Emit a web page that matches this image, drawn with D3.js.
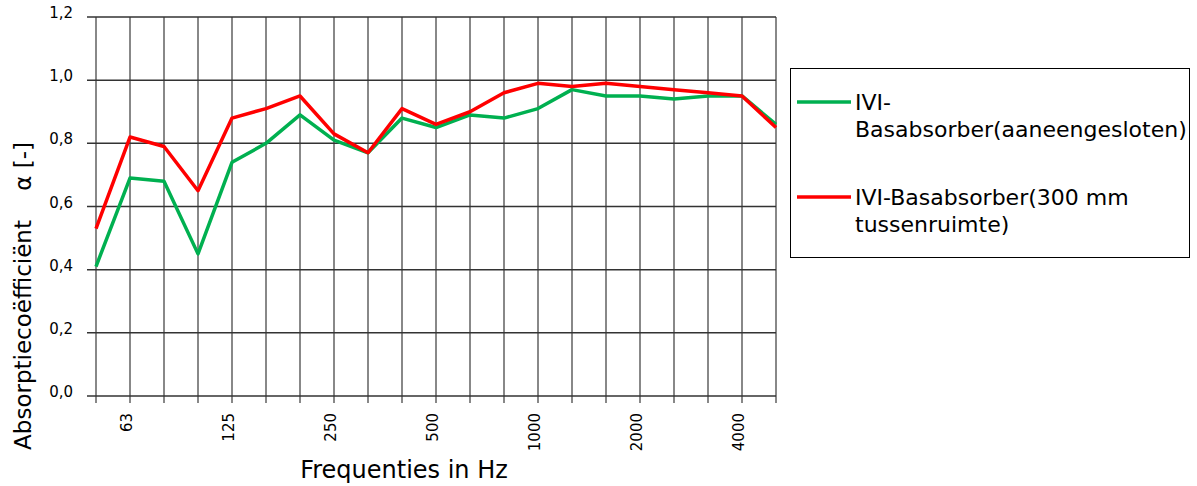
<!DOCTYPE html>
<html lang="nl">
<head>
    <meta charset="UTF-8">
    <title>Absorptiecoëfficiënt</title>
    <script src="https://d3js.org/d3.v7.min.js"></script>
    <style>
        body { margin: 0; background: #fff; }
        text { font-family: "DejaVu Sans", Verdana, sans-serif; fill: #000; }
    </style>
</head>
<body>
    <svg id="svg" width="1197" height="486"></svg>
    <script>
        // 1/3 octave bands
        const freqs = ["50", "63", "80", "100", "125", "160", "200", "250", "315", "400", "500",
                       "630", "800", "1000", "1250", "1600", "2000", "2500", "3150", "4000", "5000"];
        const shownLabels = ["63", "125", "250", "500", "1000", "2000", "4000"];
        const yTicks = [0, 0.2, 0.4, 0.6, 0.8, 1.0, 1.2];

        const aaneengesloten = [0.41, 0.69, 0.68, 0.45, 0.74, 0.80, 0.89, 0.81, 0.77, 0.88, 0.85,
                                0.89, 0.88, 0.91, 0.97, 0.95, 0.95, 0.94, 0.95, 0.95, 0.86];
        const tussenruimte = [0.53, 0.82, 0.79, 0.65, 0.88, 0.91, 0.95, 0.83, 0.77, 0.91, 0.86,
                              0.90, 0.96, 0.99, 0.98, 0.99, 0.98, 0.97, 0.96, 0.95, 0.85];

        const series = [
            {name: ["IVI-", "Basabsorber(aaneengesloten)"], values: aaneengesloten, color: "#00b050"},
            {name: ["IVI-Basabsorber(300 mm", "tussenruimte)"], values: tussenruimte, color: "#ff0000"}
        ];

        const svg = d3.select("#svg");
        const plotLeft = 96, plotRight = 776, plotTop = 17, plotBottom = 396;

        const x = d3.scalePoint().domain(freqs).range([plotLeft, plotRight]);
        const y = d3.scaleLinear().domain([0, 1.2]).range([plotBottom, plotTop]);

        // vertical grid
        svg.append("g")
            .selectAll("line")
            .data(freqs)
            .enter().append("line")
            .attr("x1", d => x(d)).attr("x2", d => x(d))
            .attr("y1", plotTop).attr("y2", plotBottom + 7)
            .attr("stroke", "#888").attr("stroke-width", 2);

        // horizontal grid
        svg.append("g")
            .selectAll("line")
            .data(yTicks)
            .enter().append("line")
            .attr("x1", plotLeft - 9).attr("x2", plotRight)
            .attr("y1", d => y(d)).attr("y2", d => y(d))
            .attr("stroke", "#333").attr("stroke-width", 1.5);

        // y tick labels
        svg.append("g")
            .selectAll("text")
            .data(yTicks)
            .enter().append("text")
            .attr("x", plotLeft - 23)
            .attr("y", d => y(d) + 1)
            .attr("text-anchor", "end")
            .attr("font-size", 15)
            .text(d => d3.format(".1f")(d).replace(".", ","));

        // x tick labels
        svg.append("g")
            .selectAll("text")
            .data(shownLabels)
            .enter().append("text")
            .attr("transform", d => `translate(${x(d) + 2},${plotBottom + 17}) rotate(-90)`)
            .attr("text-anchor", "end")
            .attr("font-size", 15)
            .text(d => d);

        // lines
        const line = d3.line()
            .x((d, i) => x(freqs[i]))
            .y(d => y(d));

        svg.append("g")
            .selectAll("path")
            .data(series)
            .enter().append("path")
            .attr("d", d => line(d.values))
            .attr("fill", "none")
            .attr("stroke", d => d.color)
            .attr("stroke-width", 3.5)
            .attr("stroke-linejoin", "round");

        // axis titles
        svg.append("text")
            .attr("transform", "translate(31,296) rotate(-90)")
            .attr("text-anchor", "middle")
            .attr("font-size", 23)
            .attr("xml:space", "preserve")
            .text("Absorptiecoëfficiënt    α [-]");

        svg.append("text")
            .attr("x", 404).attr("y", 478)
            .attr("text-anchor", "middle")
            .attr("font-size", 24)
            .text("Frequenties in Hz");

        // legend
        const legend = svg.append("g");
        legend.append("rect")
            .attr("x", 790.5).attr("y", 68.5)
            .attr("width", 399).attr("height", 189)
            .attr("fill", "#fff").attr("stroke", "#000").attr("stroke-width", 1);

        const item = legend.selectAll("g.item")
            .data(series)
            .enter().append("g")
            .attr("class", "item")
            .attr("transform", (d, i) => `translate(0,${i === 0 ? 102 : 197})`);

        item.append("line")
            .attr("x1", 797).attr("x2", 851)
            .attr("stroke", d => d.color).attr("stroke-width", 3.5);

        item.append("text")
            .attr("font-size", 22)
            .selectAll("tspan")
            .data(d => d.name)
            .enter().append("tspan")
            .attr("x", 855)
            .attr("y", (d, i) => 8 + i * 27)
            .text(d => d);
    </script>
</body>
</html>
